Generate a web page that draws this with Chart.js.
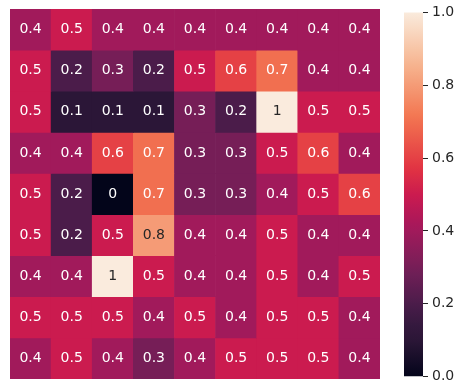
<!doctype html>
<html lang="en">
  <head>
    <meta charset="utf-8">
    <title>Heatmap</title>
    <style>
      * {
        margin: 0;
        padding: 0;
      }
      body {
        background: white;
        width: 464px;
        height: 389px;
        position: relative;
        overflow: hidden;
      }
      canvas {
        position: absolute;
        left: 0;
        top: 0;
      }
    </style>
  </head>
  <body>
    <canvas id="heatmap" width="464" height="389"></canvas>
    <canvas id="colorbar" width="464" height="389"></canvas>
    <script src="https://cdn.jsdelivr.net/npm/chart.js/dist/chart.umd.min.js"></script>
    <script>
      // data
      const columns = ['0', '1', '2', '3', '4', '5', '6', '7', '8'];
      const rows = ['0', '1', '2', '3', '4', '5', '6', '7', '8'];
      const values = [
        [0.4, 0.5, 0.4, 0.4, 0.4, 0.4, 0.4, 0.4, 0.4],
        [0.5, 0.2, 0.3, 0.2, 0.5, 0.6, 0.7, 0.4, 0.4],
        [0.5, 0.1, 0.1, 0.1, 0.3, 0.2, 1.0, 0.5, 0.5],
        [0.4, 0.4, 0.6, 0.7, 0.3, 0.3, 0.5, 0.6, 0.4],
        [0.5, 0.2, 0.0, 0.7, 0.3, 0.3, 0.4, 0.5, 0.6],
        [0.5, 0.2, 0.5, 0.8, 0.4, 0.4, 0.5, 0.4, 0.4],
        [0.4, 0.4, 1.0, 0.5, 0.4, 0.4, 0.5, 0.4, 0.5],
        [0.5, 0.5, 0.5, 0.4, 0.5, 0.4, 0.5, 0.5, 0.4],
        [0.4, 0.5, 0.4, 0.3, 0.4, 0.5, 0.5, 0.5, 0.4]
      ];
      const colorbarTicks = [0.0, 0.2, 0.4, 0.6, 0.8, 1.0];
      const vmin = 0;
      const vmax = 1;

      // rocket-like colormap
      const stops = [
        [0.0, '#03051a'], [0.1, '#2b1637'], [0.143, '#35193e'], [0.2, '#4b1c4a'],
        [0.286, '#701f57'], [0.4, '#a11a5b'], [0.429, '#ad1759'], [0.5, '#cb1b4f'],
        [0.571, '#e13342'], [0.714, '#f37651'], [0.857, '#f6b48f'], [1.0, '#faebdd']
      ];
      const hex = h => [1, 3, 5].map(i => parseInt(h.substr(i, 2), 16));
      function rocket(v) {
        const t = Math.min(1, Math.max(0, (v - vmin) / (vmax - vmin)));
        for (let i = 1; i < stops.length; i++) {
          if (t <= stops[i][0]) {
            const [t0, c0] = stops[i - 1];
            const [t1, c1] = stops[i];
            const f = (t - t0) / (t1 - t0);
            const a = hex(c0), b = hex(c1);
            const c = a.map((x, k) => Math.round(x + (b[k] - x) * f));
            return `rgb(${c[0]}, ${c[1]}, ${c[2]})`;
          }
        }
        return stops[stops.length - 1][1];
      }
      function textColor(v) {
        const c = rocket(v).match(/\d+/g).map(Number).map(x => {
          x /= 255;
          return x <= 0.03928 ? x / 12.92 : Math.pow((x + 0.055) / 1.055, 2.4);
        });
        const lum = 0.2126 * c[0] + 0.7152 * c[1] + 0.0722 * c[2];
        return lum > 0.408 ? '#262626' : '#ffffff';
      }
      const fmt = v => (Math.round(v * 10) / 10).toString();

      // one stacked dataset per row, every cell height 1
      const datasets = rows.map((r, i) => ({
        label: r,
        data: columns.map(() => 1),
        backgroundColor: values[i].map(rocket),
        borderWidth: 0,
        barPercentage: 1,
        categoryPercentage: 1,
        stack: 'cells'
      }));

      const cellLabels = {
        id: 'cellLabels',
        afterDatasetsDraw(chart) {
          const { ctx } = chart;
          ctx.save();
          ctx.font = '14px "DejaVu Sans"';
          ctx.textAlign = 'center';
          ctx.textBaseline = 'middle';
          rows.forEach((r, i) => {
            chart.getDatasetMeta(i).data.forEach((bar, j) => {
              const v = values[i][j];
              ctx.fillStyle = textColor(v);
              ctx.fillText(fmt(v), bar.x, (bar.y + bar.base) / 2);
            });
          });
          ctx.restore();
        }
      };

      new Chart(document.getElementById('heatmap'), {
        type: 'bar',
        data: { labels: columns, datasets },
        options: {
          responsive: false,
          animation: false,
          layout: { padding: { left: 10, right: 84, top: 9, bottom: 10 } },
          plugins: { legend: { display: false }, tooltip: { enabled: false } },
          scales: {
            x: { display: false, stacked: true },
            y: { display: false, stacked: true, min: 0, max: rows.length, reverse: true }
          }
        },
        plugins: [cellLabels]
      });

      // colorbar
      new Chart(document.getElementById('colorbar'), {
        type: 'bar',
        data: {
          labels: [''],
          datasets: [{
            data: [[vmin, vmax]],
            borderWidth: 0,
            barPercentage: 1,
            categoryPercentage: 1,
            backgroundColor(c) {
              const area = c.chart.chartArea;
              if (!area) return '#cb1b4f';
              const g = c.chart.ctx.createLinearGradient(0, area.bottom, 0, area.top);
              for (let k = 0; k <= 50; k++) g.addColorStop(k / 50, rocket(vmin + (vmax - vmin) * k / 50));
              return g;
            }
          }]
        },
        options: {
          responsive: false,
          animation: false,
          layout: { padding: { left: 404, right: 0, top: 9, bottom: 10 } },
          plugins: { legend: { display: false }, tooltip: { enabled: false } },
          scales: {
            x: { display: false },
            y: {
              position: 'right',
              min: vmin,
              max: vmax,
              afterFit(scale) { scale.width = 41; },
              afterBuildTicks(scale) { scale.ticks = colorbarTicks.map(v => ({ value: v })); },
              border: { display: false },
              grid: { drawOnChartArea: false, drawTicks: true, tickLength: 5, color: '#262626', tickWidth: 1 },
              ticks: {
                padding: 4,
                color: '#262626',
                font: { family: 'DejaVu Sans', size: 14 },
                callback: v => v.toFixed(1)
              }
            }
          }
        }
      });
    </script>
  </body>
</html>
